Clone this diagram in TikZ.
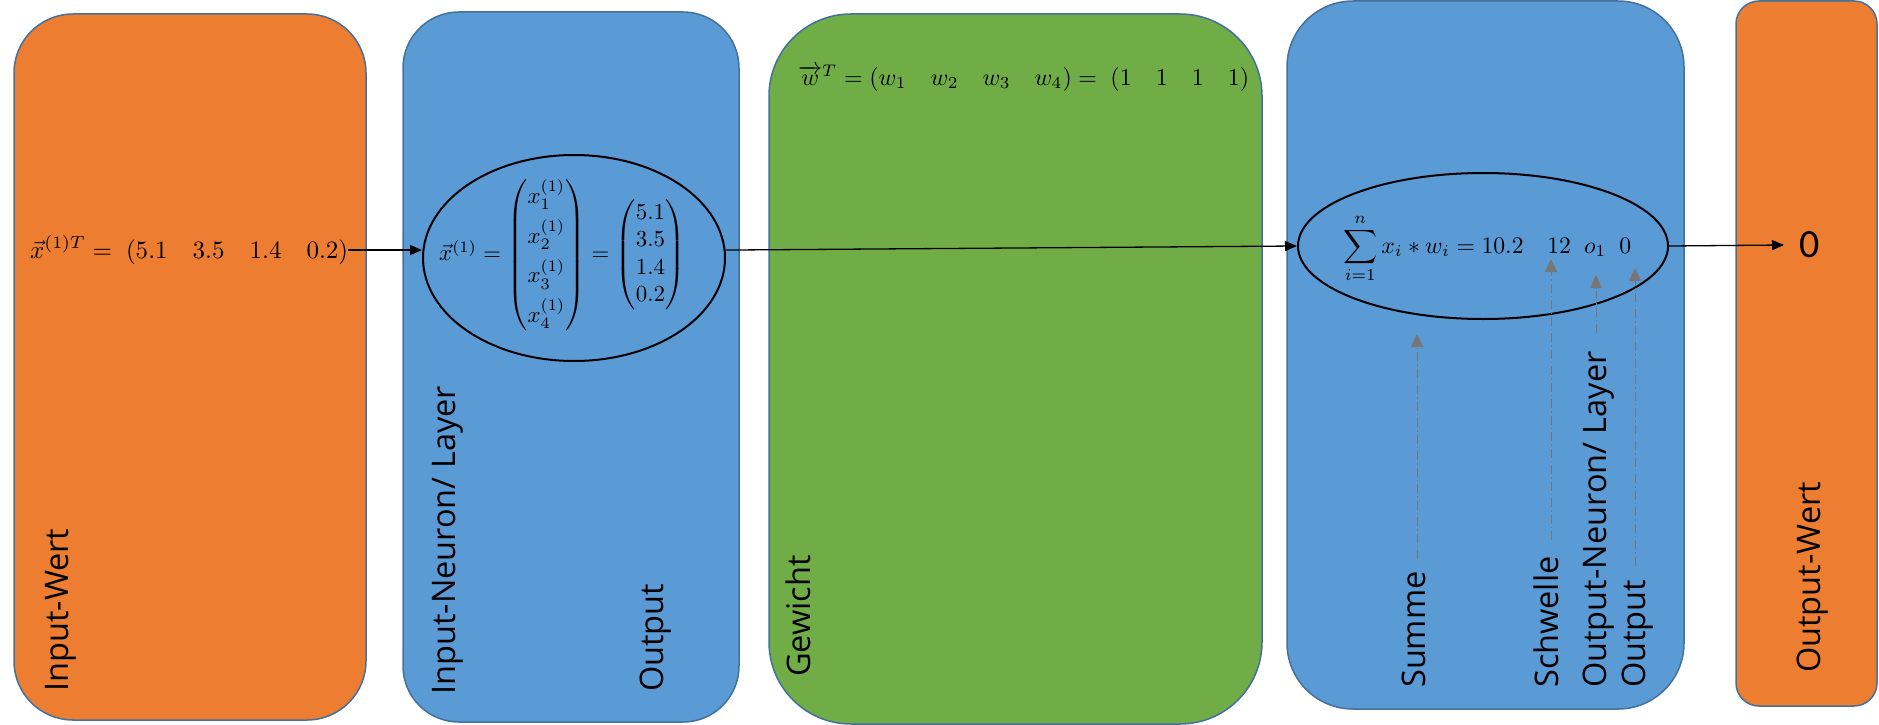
\documentclass[tikz,border=0pt]{standalone}
\usepackage{fontspec}
\usepackage{amsmath}
\usepackage{graphicx}
\newfontfamily\lblfont{Open Sans}
\newfontfamily\numfont{Carlito}
\usetikzlibrary{shapes.geometric,arrows.meta}
\definecolor{orangeF}{HTML}{ED7D31}
\definecolor{blueF}{HTML}{5B9BD5}
\definecolor{greenF}{HTML}{70AD47}
\definecolor{edgeC}{HTML}{41719C}
\definecolor{grayA}{HTML}{767676}
\begin{document}
\begin{tikzpicture}[x=1pt,y=1pt,
  panel/.style={draw=edgeC, line width=1.5pt},
  lbl/.style={font=\lblfont\fontsize{32.5}{39}\selectfont, rotate=90, anchor=base west, inner sep=0pt},
  ring/.style={ellipse, draw=black, line width=2pt, inner sep=0pt},
  arr/.style={draw=black, line width=1.3pt, -{Triangle[length=12pt,width=10pt]}},
  garr/.style={draw=grayA, line width=1pt, dash pattern=on 9pt off 3pt on 1.5pt off 3pt, -{Triangle[length=13pt,width=12pt]}},
  eq/.style={inner sep=0pt, anchor=base west}]
\useasboundingbox (0,0) rectangle (1879,-725);
% panels
\draw[panel, fill=orangeF, rounded corners=59pt] (14,-14) rectangle (366,-720);
\draw[panel, fill=blueF, rounded corners=56pt] (403,-12) rectangle (739,-722);
\draw[panel, fill=greenF, rounded corners=82pt] (769,-14) rectangle (1262,-724);
\draw[panel, fill=blueF, rounded corners=66pt] (1287,-1) rectangle (1684,-709);
\draw[panel, fill=orangeF, rounded corners=23pt] (1736,-1) rectangle (1877,-706);
% ellipses
\node[ring, minimum width=302pt, minimum height=206pt] (e1) at (574,-258) {};
\node[ring, minimum width=370pt, minimum height=146pt] (e2) at (1483,-246) {};
% equations
\node[eq] (xT) at (30,-258) {\resizebox{318pt}{!}{$\vec{x}^{(1)T} = \;(5.1\quad 3.5\quad 1.4\quad 0.2)$}};
\node[eq] (wT) at (798,-85) {\resizebox{451pt}{!}{$\overrightarrow{w}^{T} = (w_1\quad w_2\quad w_3\quad w_4)= \;(1\quad 1\quad 1\quad 1)$}};
\node[inner sep=0pt, anchor=west] (xv) at (439,-255) {\resizebox{246pt}{!}{$\vec{x}^{(1)} = {\renewcommand{\arraystretch}{1.45}\begin{pmatrix}x_1^{(1)}\\ x_2^{(1)}\\ x_3^{(1)}\\ x_4^{(1)}\end{pmatrix}} = \begin{pmatrix}5.1\\ 3.5\\ 1.4\\ 0.2\end{pmatrix}$}};
\node[eq] (sum) at (1343,-253) {\resizebox{288pt}{!}{$\displaystyle\sum_{i=1}^{n} x_i * w_i = 10.2\quad 12\;\; o_1\;\; 0$}};
\node[font=\numfont\fontsize{40}{48}\selectfont, inner sep=0pt, inner xsep=15pt, anchor=west] (zero) at (1784,-245) {0};
% labels
\node[lbl] (inw) at (68,-692) {Input-Wert};
\node[lbl] (inn) at (455,-695) {Input-Neuron/ Layer};
\node[lbl] (out1) at (663,-692) {Output};
\node[lbl] (gew) at (810,-677) {Gewicht};
\node[lbl] (summe) at (1425,-688) {Summe};
\node[lbl] (schw) at (1558,-688) {Schwelle};
\node[lbl] (onl) at (1606,-688) {Output-Neuron/ Layer};
\node[lbl] (out2) at (1645,-688) {Output};
\node[lbl] (outw) at (1820,-673) {Output-Wert};
% connectors
\draw[arr] (xT.east) -- (xT.east -| e1.west);
\draw[arr] (e1.3) -- (e2.west);
\draw[arr] (e2.east) -- (zero.west);
\coordinate (tS) at (1417,-334);
\coordinate (tW) at (1551,-259);
\coordinate (tN) at (1596,-275);
\coordinate (tO) at (1635,-268);
\draw[garr, shorten <=12pt] (tS |- summe.east) -- (tS);
\draw[garr, shorten <=16pt] (tW |- schw.east) -- (tW);
\draw[garr, shorten <=18pt] (tN |- onl.east) -- (tN);
\draw[garr, shorten <=14pt] (tO |- out2.east) -- (tO);
\end{tikzpicture}
\end{document}
